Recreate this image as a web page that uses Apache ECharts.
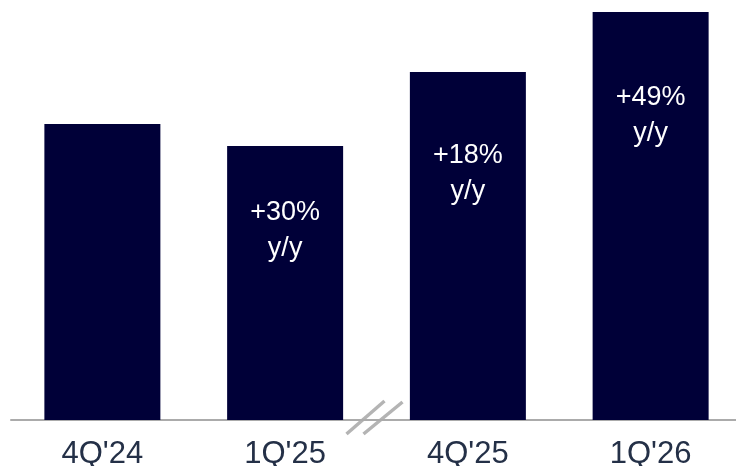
<!DOCTYPE html>
<html>
<head>
<meta charset="utf-8">
<script src="https://cdn.jsdelivr.net/npm/echarts@6/dist/echarts.min.js"></script>
<style>
html,body{margin:0;padding:0;background:#fff;}
#chart{width:736px;height:466px;}
</style>
</head>
<body>
<div id="chart"></div>
<script>
const categories = ["4Q'24", "1Q'25", "4Q'25", "1Q'26"];
const values = [296, 274, 348, 408];
const growthLabels = ["", "+30%\ny/y", "+18%\ny/y", "+49%\ny/y"];
const labelDistances = [0, 49, 66, 68];

const chart = echarts.init(document.getElementById('chart'), null, {renderer: 'canvas'});

const data = values.map((v, i) => ({
  value: v,
  label: {
    show: growthLabels[i] !== '',
    formatter: growthLabels[i],
    distance: labelDistances[i]
  }
}));

chart.setOption({
  animation: false,
  grid: {left: 11, width: 731, top: 12, bottom: 46, containLabel: false, outerBoundsMode: 'none'},
  xAxis: {
    type: 'category',
    data: categories,
    axisLine: {show: true, lineStyle: {color: '#ababab', width: 2}},
    axisTick: {show: false},
    axisLabel: {
      color: '#243047',
      fontSize: 31,
      fontFamily: 'Liberation Sans, Arial, sans-serif',
      margin: 19
    }
  },
  yAxis: {
    type: 'value',
    min: 0,
    max: 408,
    show: false,
    splitLine: {show: false}
  },
  series: [{
    type: 'bar',
    data: data,
    barWidth: 116,
    itemStyle: {color: '#000038'},
    label: {
      position: 'insideTop',
      color: '#ffffff',
      fontSize: 27,
      lineHeight: 36,
      fontFamily: 'Liberation Sans, Arial, sans-serif',
      align: 'center'
    }
  }]
});

// axis break marks between 2nd and 3rd category
const p1 = chart.convertToPixel({gridIndex: 0}, [1, 0]);
const p2 = chart.convertToPixel({gridIndex: 0}, [2, 0]);
const mx = (p1[0] + p2[0]) / 2;
const my = p1[1];
const brk = {stroke: '#b4b4b4', lineWidth: 3.5};
chart.setOption({
  graphic: [
    {type: 'line', shape: {x1: mx - 30, y1: my + 14, x2: mx + 8, y2: my - 19}, style: brk},
    {type: 'line', shape: {x1: mx - 13, y1: my + 14, x2: mx + 26, y2: my - 18}, style: brk}
  ]
});
</script>
</body>
</html>
